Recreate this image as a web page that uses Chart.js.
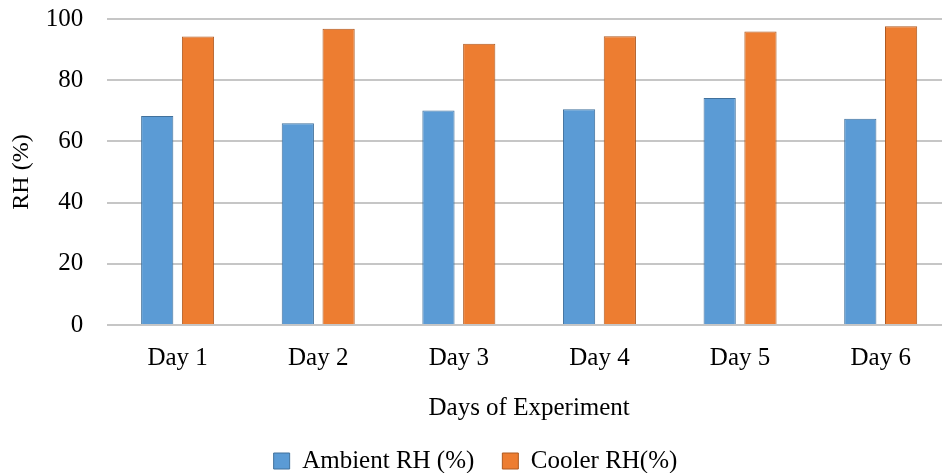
<!DOCTYPE html>
<html>
<head>
<meta charset="utf-8">
<script src="https://cdn.jsdelivr.net/npm/chart.js@4/dist/chart.umd.min.js"></script>
<style>
  html, body { margin: 0; padding: 0; background: #fff; overflow: hidden; }
  #wrap { width: 951px; height: 503.5px; margin-top: -20.5px; }
</style>
</head>
<body>
<div id="wrap"><canvas id="rhChart"></canvas></div>
<script>
const days = ['Day 1', 'Day 2', 'Day 3', 'Day 4', 'Day 5', 'Day 6'];
const ambientRH = [68.3, 65.9, 70.1, 70.5, 74.2, 67.4];
const coolerRH = [94.3, 96.8, 91.9, 94.4, 95.9, 97.6];

const serif = "'Liberation Serif', 'Times New Roman', serif";

const ctx = document.getElementById('rhChart').getContext('2d');
const rhChart = new Chart(ctx, {
    type: 'bar',
    data: {
        labels: days,
        datasets: [{
            label: 'Ambient RH (%)',
            data: ambientRH,
            backgroundColor: '#5B9BD5',
            borderColor: '#41719C',
            borderWidth: 1,
            categoryPercentage: 0.58,
            barPercentage: 0.79
        }, {
            label: 'Cooler RH(%)',
            data: coolerRH,
            backgroundColor: '#ED7D31',
            borderColor: '#AE5A21',
            borderWidth: 1,
            categoryPercentage: 0.58,
            barPercentage: 0.79
        }]
    },
    options: {
        responsive: true,
        maintainAspectRatio: false,
        animation: false,
        layout: { padding: { top: -17.5, left: 0, right: 0, bottom: 0 } },
        plugins: {
            tooltip: { enabled: false },
            legend: {
                position: 'bottom',
                labels: {
                    boxWidth: 16,
                    boxHeight: 16,
                    padding: 28,
                    color: '#000',
                    font: { family: serif, size: 25 }
                }
            }
        },
        scales: {
            x: {
                grid: { display: false },
                border: { display: false },
                ticks: { color: '#000', padding: 10.5, font: { family: serif, size: 25 } },
                title: {
                    display: true,
                    text: 'Days of Experiment',
                    color: '#000',
                    font: { family: serif, size: 25 },
                    padding: { top: 9.5, bottom: -3 }
                }
            },
            y: {
                min: 0,
                max: 100,
                ticks: { stepSize: 20, color: '#000', padding: 24, font: { family: serif, size: 25 } },
                grid: { color: '#C6C6C6', lineWidth: 2, drawTicks: false },
                border: { display: false },
                title: {
                    display: true,
                    text: 'RH (%)',
                    color: '#000',
                    font: { family: serif, size: 24 },
                    padding: { top: 7.6, bottom: -14.6 }
                }
            }
        }
    }
});
</script>
</body>
</html>
